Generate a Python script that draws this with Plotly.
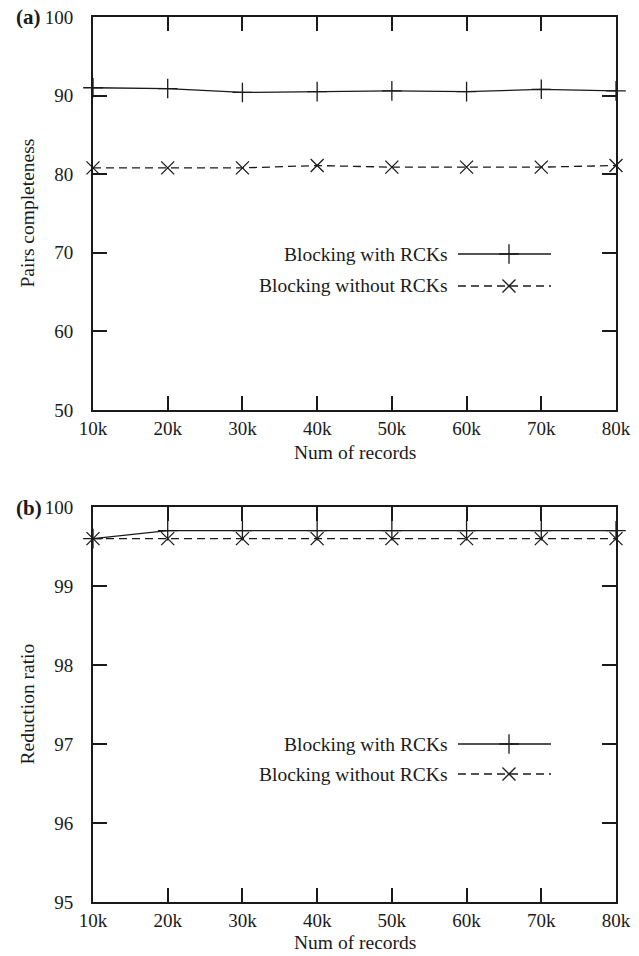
import plotly.graph_objects as go

# ---- data ----
records_k = [10, 20, 30, 40, 50, 60, 70, 80]
x_tick_labels = ["10k", "20k", "30k", "40k", "50k", "60k", "70k", "80k"]

pc_with = [91.0, 90.9, 90.4, 90.5, 90.6, 90.5, 90.8, 90.6]
pc_without = [80.8, 80.8, 80.8, 81.1, 80.9, 80.9, 80.9, 81.1]

rr_with = [99.6, 99.7, 99.7, 99.7, 99.7, 99.7, 99.7, 99.7]
rr_without = [99.6, 99.6, 99.6, 99.6, 99.6, 99.6, 99.6, 99.6]

pc_ticks = [50, 60, 70, 80, 90, 100]
rr_ticks = [95, 96, 97, 98, 99, 100]

series_names = ["Blocking with RCKs", "Blocking without RCKs"]

# ---- layout geometry (pixels) ----
W, H = 639, 956
FONT = "Liberation Serif, Times New Roman, serif"
INK = "#1a1a1a"
X_L, X_R = 93, 616
TOP_T, TOP_B = 17, 410
BOT_T, BOT_B = 507, 902


def py(y):
    return 1 - y / H


fig = go.Figure()

line_solid = dict(color=INK, width=1.3)
line_dash = dict(color=INK, width=1.3, dash="8px,5px")
mk_plus = dict(symbol="cross-thin", size=14, line=dict(color=INK, width=1.3), color=INK)
mk_x = dict(symbol="x-thin", size=13, line=dict(color=INK, width=1.3), color=INK)

# top panel
fig.add_trace(go.Scatter(x=records_k, y=pc_with, mode="lines+markers", line=line_solid,
                         marker=mk_plus, xaxis="x", yaxis="y", cliponaxis=False,
                         showlegend=False, name=series_names[0]))
fig.add_trace(go.Scatter(x=records_k, y=pc_without, mode="lines+markers", line=line_dash,
                         marker=mk_x, xaxis="x", yaxis="y", cliponaxis=False,
                         showlegend=False, name=series_names[1]))
# bottom panel
fig.add_trace(go.Scatter(x=records_k, y=rr_with, mode="lines+markers", line=line_solid,
                         marker=mk_plus, xaxis="x2", yaxis="y2", cliponaxis=False,
                         showlegend=False, name=series_names[0]))
fig.add_trace(go.Scatter(x=records_k, y=rr_without, mode="lines+markers", line=line_dash,
                         marker=mk_x, xaxis="x2", yaxis="y2", cliponaxis=False,
                         showlegend=False, name=series_names[1]))

# legend samples drawn in a pixel-space overlay axis (x3/y3)
leg_rows = [(254, 286), (744, 774)]
annotations = []
for r1, r2 in leg_rows:
    fig.add_trace(go.Scatter(x=[458, 551], y=[r1, r1], mode="lines", line=line_solid,
                             xaxis="x3", yaxis="y3", showlegend=False, hoverinfo="skip"))
    fig.add_trace(go.Scatter(x=[509], y=[r1], mode="markers", marker=mk_plus,
                             xaxis="x3", yaxis="y3", showlegend=False, cliponaxis=False, hoverinfo="skip"))
    fig.add_trace(go.Scatter(x=[458, 551], y=[r2, r2], mode="lines", line=line_dash,
                             xaxis="x3", yaxis="y3", showlegend=False, hoverinfo="skip"))
    fig.add_trace(go.Scatter(x=[509], y=[r2], mode="markers", marker=mk_x,
                             xaxis="x3", yaxis="y3", showlegend=False, cliponaxis=False, hoverinfo="skip"))
    for yy, nm in ((r1, series_names[0]), (r2, series_names[1])):
        annotations.append(dict(x=450 / W, y=py(yy), xref="paper", yref="paper", text=nm,
                                showarrow=False, xanchor="right", yanchor="middle",
                                font=dict(family=FONT, size=19.5, color=INK)))

# panel labels & axis titles
for lab, yy in (("(a)", 17), ("(b)", 508)):
    annotations.append(dict(x=14 / W, y=py(yy), xref="paper", yref="paper", text="<b>" + lab + "</b>",
                            showarrow=False, xanchor="left", yanchor="middle",
                            font=dict(family=FONT, size=21, color=INK)))
for txt, yy in (("Num of records", 452), ("Num of records", 942)):
    annotations.append(dict(x=((X_L + X_R) / 2) / W, y=py(yy), xref="paper", yref="paper", text=txt,
                            showarrow=False, xanchor="center", yanchor="middle",
                            font=dict(family=FONT, size=19.5, color=INK)))
for txt, yy in (("Pairs completeness", (TOP_T + TOP_B) / 2), ("Reduction ratio", (BOT_T + BOT_B) / 2)):
    annotations.append(dict(x=27 / W, y=py(yy), xref="paper", yref="paper", text=txt, textangle=-90,
                            showarrow=False, xanchor="center", yanchor="middle",
                            font=dict(family=FONT, size=19.5, color=INK)))

xax_common = dict(range=[10, 80], tickvals=records_k, ticktext=x_tick_labels, ticks="inside",
                  ticklen=14, tickwidth=2, tickcolor=INK, showline=True, linewidth=2, linecolor=INK,
                  mirror="ticks", showgrid=False, zeroline=False, ticklabelstandoff=0,
                  tickfont=dict(family=FONT, size=19, color=INK), automargin=False,
                  domain=[X_L / W, X_R / W], fixedrange=True)
yax_common = dict(ticks="inside", ticklen=14, tickwidth=2, tickcolor=INK, showline=True, linewidth=2,
                  linecolor=INK, mirror="ticks", showgrid=False, zeroline=False, ticklabelstandoff=14,
                  tickfont=dict(family=FONT, size=19, color=INK), automargin=False, fixedrange=True)

fig.update_layout(
    template="none",
    width=W, height=H, margin=dict(l=0, r=0, t=0, b=0, pad=0),
    paper_bgcolor="white", plot_bgcolor="rgba(0,0,0,0)", showlegend=False,
    xaxis=dict(xax_common, anchor="y"),
    yaxis=dict(yax_common, anchor="x", range=[50, 100], tickvals=pc_ticks,
               domain=[py(TOP_B), py(TOP_T)]),
    xaxis2=dict(xax_common, anchor="y2"),
    yaxis2=dict(yax_common, anchor="x2", range=[95, 100], tickvals=rr_ticks,
                domain=[py(BOT_B), py(BOT_T)]),
    xaxis3=dict(domain=[0, 1], range=[0, W], visible=False, anchor="y3", fixedrange=True,
                automargin=False),
    yaxis3=dict(domain=[0, 1], range=[H, 0], visible=False, anchor="x3", fixedrange=True,
                automargin=False),
    annotations=annotations,
)

fig.write_html("out.html", config={"displayModeBar": False, "staticPlot": True},
               post_script="document.body.style.margin='0';document.body.style.overflow='hidden';")
